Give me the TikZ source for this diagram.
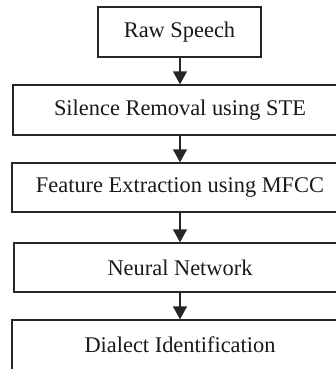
\documentclass[tikz,border=0pt]{standalone}
\usepackage{fontspec}
\setmainfont{Liberation Serif}
\usetikzlibrary{arrows.meta}
\begin{document}
\begin{tikzpicture}[x=1pt,y=-1pt,
  stagebox/.style={draw=black!85,line width=1.4pt,inner sep=0pt,
    font=\fontsize{22.4}{26}\selectfont,text=black!90},
  flowarrow/.style={draw=black!85,line width=1.4pt,
    -{Triangle[width=14pt,length=13pt]}}]
\useasboundingbox (0,0) rectangle (336,369);
\clip (0,0) rectangle (336,369);
\node[stagebox,minimum width=163pt,minimum height=50pt] (b1) at (179.5,32) {Raw Speech};
\node[stagebox,minimum width=334pt,minimum height=50pt] (b2) at (180,110) {Silence Removal using STE};
\node[stagebox,minimum width=336pt,minimum height=49pt] (b3) at (180,187.5) {Feature Extraction using MFCC};
\node[stagebox,minimum width=332pt,minimum height=49pt] (b4) at (180,267.5) {Neural Network};
\node[stagebox,minimum width=336pt,minimum height=50pt] (b5) at (180,345) {Dialect Identification};
\coordinate (ax) at (180,0);
\draw[flowarrow] (b1.south -| ax) -- (b2.north -| ax);
\draw[flowarrow] (b2.south -| ax) -- (b3.north -| ax);
\draw[flowarrow] (b3.south -| ax) -- (b4.north -| ax);
\draw[flowarrow] (b4.south -| ax) -- (b5.north -| ax);
\end{tikzpicture}
\end{document}
